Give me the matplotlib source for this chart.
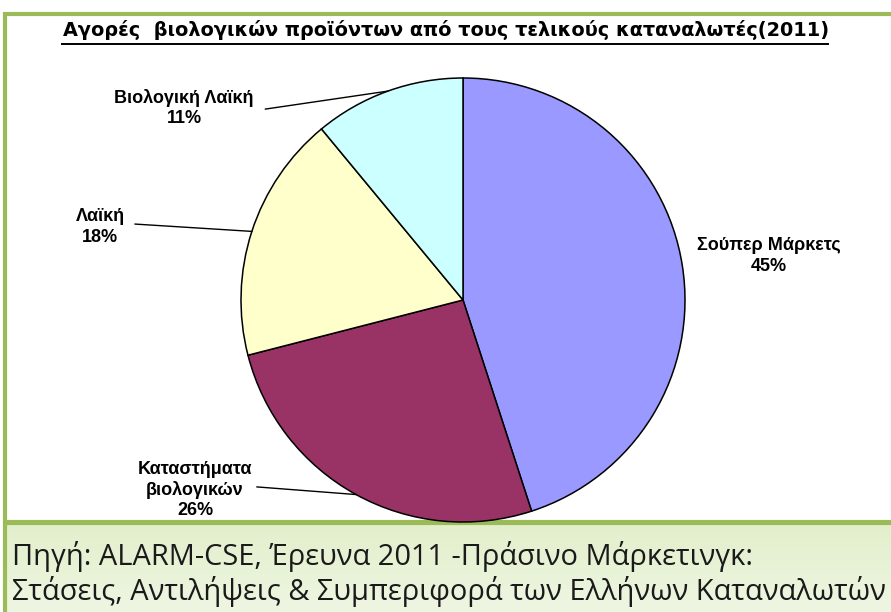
import numpy as np
import matplotlib
matplotlib.use("Agg")
import matplotlib.pyplot as plt
from matplotlib.patches import Rectangle
from matplotlib.colors import LinearSegmentedColormap

# Data
categories = ["Σούπερ Μάρκετς", "Καταστήματα\nβιολογικών", "Λαϊκή", "Βιολογική Λαϊκή"]
values = [45, 26, 18, 11]
colors = ["#9999FF", "#993366", "#FFFFCC", "#CCFFFF"]
title = "Αγορές  βιολογικών προϊόντων από τους τελικούς καταναλωτές(2011)"
source_lines = ["Πηγή: ALARM-CSE, Έρευνα 2011 -Πράσινο Μάρκετινγκ:",
                "Στάσεις, Αντιλήψεις & Συμπεριφορά των Ελλήνων Καταναλωτών"]

W, H = 891, 612
fig = plt.figure(figsize=(W / 100, H / 100), dpi=100)
fig.patch.set_facecolor("white")
renderer = fig.canvas.get_renderer()

def fx(px):
    return px / W

def fy(py):
    return 1 - py / H

def fit_width(t, target):
    bb = t.get_window_extent(renderer=renderer)
    t.set_fontsize(t.get_fontsize() * target / bb.width)

# background frames
bg = fig.add_axes([0, 0, 1, 1])
bg.set_xlim(0, W)
bg.set_ylim(H, 0)
bg.axis("off")
bg.add_patch(Rectangle((5, 14), W - 3, 508, facecolor="white", edgecolor="#9BBB59", lw=3, zorder=1))
grad = np.linspace(0, 1, 100).reshape(-1, 1)
cmap = LinearSegmentedColormap.from_list("g", ["#E2EFCB", "#EEF6E2"])
bg.imshow(grad, extent=(5, W, H, 523), cmap=cmap, aspect="auto", zorder=0)
bg.add_patch(Rectangle((5, 523), W - 3, H - 521, facecolor="none", edgecolor="#9BBB59", lw=3, zorder=2))

tt = bg.text(63, 36, title, ha="left", va="baseline", fontsize=13, fontweight="bold",
             family="DejaVu Sans", color="black", zorder=3)
fit_width(tt, 762)
bg.plot([62, 828], [43.5, 43.5], color="black", lw=1.4, zorder=3)

s1 = bg.text(12, 565, source_lines[0], ha="left", va="baseline", fontsize=18,
             family="Open Sans", color="#1a1a1a", zorder=3)
s2 = bg.text(12, 600, source_lines[1], ha="left", va="baseline", fontsize=18,
             family="Open Sans", color="#1a1a1a", zorder=3)
fit_width(s2, 873)
s1.set_fontsize(s2.get_fontsize())

# pie axes
cx, cy, r = 463, 300, 222
ax = fig.add_axes([fx(cx - r), fy(cy + r), 2 * r / W, 2 * r / H])
wedges, _ = ax.pie(values, colors=colors, startangle=90, counterclock=False, radius=1,
                   wedgeprops=dict(edgecolor="black", linewidth=1.1), frame=False)
ax.set_xlim(-1, 1)
ax.set_ylim(-1, 1)
ax.axis("off")

label_pos = [(1.378, 0.198), (-1.207, -0.856), (-1.635, 0.329), (-1.257, 0.865)]
line_start = [None, (-0.928, -0.842), (-1.477, 0.342), (-0.89, 0.86)]
for w, lab, v, pos, ls in zip(wedges, categories, values, label_pos, line_start):
    ang = np.deg2rad((w.theta1 + w.theta2) / 2)
    px, py = np.cos(ang), np.sin(ang)
    ax.text(pos[0], pos[1], f"{lab}\n{v}%", ha="center", va="center", fontsize=13,
            fontweight="bold", family="Liberation Sans", linespacing=1.25, clip_on=False)
    if ls is not None:
        ax.plot([ls[0], px], [ls[1], py], color="black", lw=1.0, clip_on=False)

fig.savefig("out.png", dpi=100)
